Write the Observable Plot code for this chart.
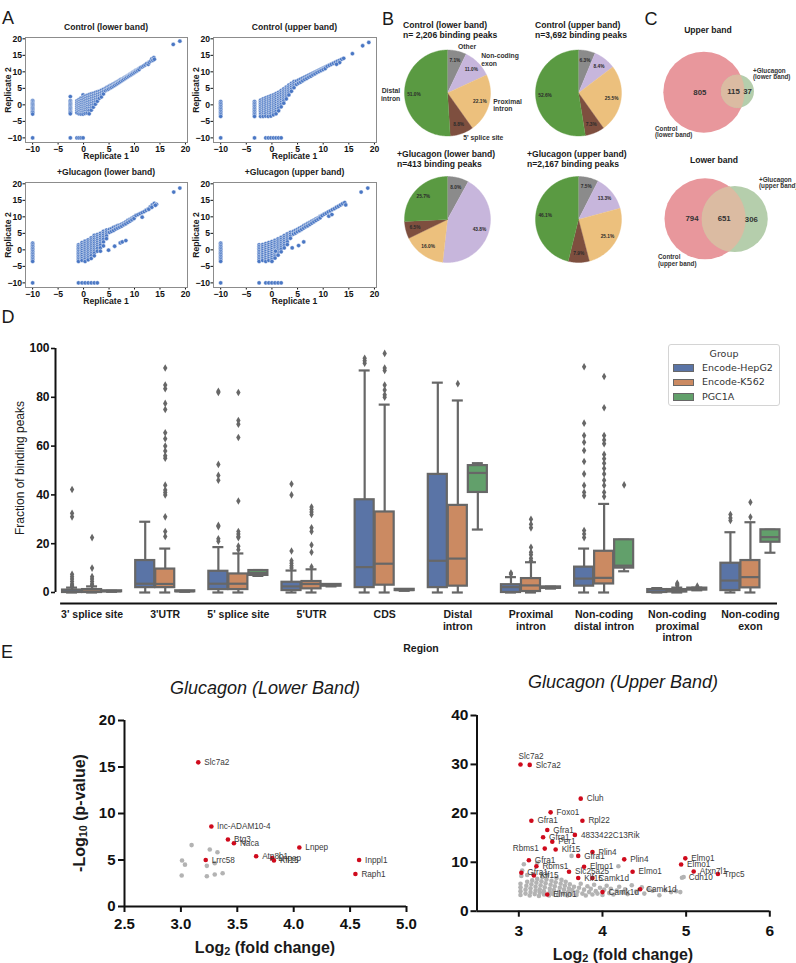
<!DOCTYPE html>
<html>
<head>
<meta charset="utf-8">
<script src="https://cdn.jsdelivr.net/npm/d3@7"></script>
<script src="https://cdn.jsdelivr.net/npm/@observablehq/plot@0.6"></script>
<style>
html,body{margin:0;padding:0;background:#fff;}
#root{position:relative;width:796px;height:963px;overflow:hidden;background:#fff;}
#root svg{position:absolute;overflow:visible;}
.thick g[aria-label="x-axis tick"] path,.thick g[aria-label="y-axis tick"] path,.thick g[aria-label="x-axis"] line,.thick g[aria-label="y-axis"] line{stroke-width:2px;stroke:#111;}
.mid g[aria-label="y-axis tick"] path,.mid g[aria-label="y-axis"] line{stroke-width:1.6px;stroke:#111;}
</style>
</head>
<body>
<div id="root"></div>
<script>
// ===================== DATA =====================
// Panel A: replicate scatter (columns of points at fixed x, and diagonal points)
const repTicks = [-10, -5, 0, 5, 10, 15, 20];
const ctrlLowerCols = [
  [-10, [1.3,0.9,0.5,0.1,-0.3,-0.7,-1.1,-1.5,-1.9,-2.3,-2.8,-10]],
  [-2.6, [2.5,1.3,0.9,0.5,0.1,-0.3,-0.7,-1.1,-1.5,-1.9,-2.3,-2.7,-10]],
  [-1.3, [1.2,0.6,0,-0.6,-1.2,-1.8,-2.4,-10]],
  [-0.9, [1.6,1,0.4,-0.2,-0.8,-1.4,-2,-2.7,-10]],
  [-0.5, [2,1.3,0.7,0.1,-0.5,-1.1,-1.7,-2.3,-2.8,-10]],
  [-0.1, [3,2.2,1.5,0.8,0.2,-0.4,-1,-1.6,-2.2,-2.8,-10]],
  [0.3, [2.6,1.9,1.2,0.5,-0.1,-0.7,-1.3,-1.9,-2.6]],
  [0.7, [2.9,2.2,1.5,0.8,0.1,-0.5,-1.1,-1.8,-2.5]],
  [1.1, [3.1,2.4,1.7,1,0.3,-0.3,-1,-1.7,-2.7]],
  [1.5, [3.3,2.6,1.9,1.2,0.5,-0.2,-0.9,-1.6]],
  [1.9, [3.5,2.8,2.1,1.4,0.7,0,-0.7]],
  [2.3, [3.7,3,2.3,1.6,0.9,0.2]],
  [2.7, [3.9,3.2,2.5,1.8,1.1]],
  [3.1, [4.1,3.4,2.7,2]],
  [3.5, [4.4,3.7,3,2.4]],
  [3.9, [4.7,4,3.3]]
];
const ctrlLowerDiag = [[4.3,5],[4.3,4.3],[4.6,5.3],[4.6,4.6],[4.9,5.5],[4.9,4.8],[5.2,5.8],[5.2,5.1],[5.5,6],[5.5,5.3],[5.8,6.3],[5.8,5.6],[6.1,6.5],[6.1,5.9],[6.4,6.8],[6.4,6.2],[6.7,7],[6.7,6.5],[7,7.3],[7,6.8],[7.3,7.6],[7.3,7.1],[7.6,7.8],[7.6,7.4],[7.9,8.1],[7.9,7.7],[8.2,8.4],[8.2,8],[8.5,8.6],[8.5,8.3],[8.8,8.9],[8.8,8.6],[9.1,9.2],[9.1,8.9],[9.4,9.5],[9.4,9.2],[9.7,9.8],[9.7,9.5],[10,10.1],[10,9.8],[10.3,10.4],[10.3,10.1],[10.6,10.7],[10.6,10.4],[10.9,11],[10.9,10.7],[11.2,11.3],[11.5,11.5],[11.8,11.8],[12.1,12.1],[12.4,12.5],[12.7,12.3],[12.9,12.9],[13.2,13.3],[13.4,13.9],[13.6,13.5],[13.8,14.3],[13.9,13.8],[17.6,18.3],[18.9,19.3]];

const ctrlUpperCols = [
  [-10, [1,0.5,0,-0.5,-1,-1.5,-2,-2.5,-3,-3.5,-10]],
  [-3.4, [1,0.5,0,-0.5,-1,-1.5,-2,-2.5,-3,-3.5,-10]],
  [-2.2, [1.4,0.8,0.2,-0.4,-1,-1.6,-2.2,-2.8,-3.5]],
  [-1.7, [1.8,1.2,0.6,0,-0.6,-1.2,-1.8,-2.4,-3,-3.5]],
  [-1.2, [2.1,1.5,0.9,0.3,-0.3,-0.9,-1.5,-2.1,-2.7,-3.4,-10]],
  [-0.7, [2.4,1.8,1.2,0.6,0,-0.6,-1.2,-1.8,-2.4,-3,-3.5,-10]],
  [-0.2, [2.7,2.1,1.5,0.9,0.3,-0.3,-0.9,-1.5,-2.1,-2.7,-3.4,-10]],
  [0.3, [3,2.4,1.8,1.2,0.6,0,-0.6,-1.2,-1.8,-2.4,-3,-10]],
  [0.8, [3.4,2.8,2.2,1.6,1,0.4,-0.2,-0.8,-1.4,-2,-2.7,-10]],
  [1.3, [3.8,3.2,2.6,2,1.4,0.8,0.2,-0.4,-1,-1.8,-10]],
  [1.8, [4.3,3.7,3.1,2.5,1.9,1.3,0.7,0.1,-0.6,-10]],
  [2.3, [4.8,4.2,3.6,3,2.4,1.8,1.2,0.5]],
  [2.8, [5.4,4.8,4.2,3.6,3,2.4,1.8]],
  [3.3, [6,5.4,4.8,4.2,3.6,3]],
  [3.8, [6.5,5.9,5.3,4.7,4.1]],
  [4.3, [7,6.4,5.8,5.2]]
];
const ctrlUpperDiag = [[4.8,7.2],[4.8,6.2],[5.2,7.5],[5.2,6.6],[5.6,7.8],[5.6,6.9],[6,8.1],[6,7.3],[6.4,8.4],[6.4,7.7],[6.8,8.7],[6.8,8],[7.2,9],[7.2,8.4],[7.6,9.3],[7.6,8.7],[8,9.6],[8,9.1],[8.4,9.9],[8.4,9.4],[8.8,10.2],[8.8,9.8],[9.2,10.5],[9.2,10.1],[9.6,10.8],[9.6,10.4],[10,11.1],[10,10.7],[10.4,11.4],[10.4,11],[10.8,11.7],[11.2,12],[11.6,12.3],[12,12.6],[12.4,12.9],[12.8,13.2],[13.2,13.5],[13.6,13.8],[14,14.1],[13.2,12.8],[12.6,12.3],[15.7,15.5],[17.7,17.9],[18.9,18.9]];

const glucLowerCols = [
  [-10, [2,1.5,1,0.5,0,-0.5,-1,-1.5,-2,-2.5,-3,-3.5,-10]],
  [-1, [1.5,1,0.5,0,-0.5,-1,-1.5,-2,-2.5,-3,-3.5,-10]],
  [-0.3, [2.2,1.6,1,0.4,-0.2,-0.8,-1.4,-2,-2.6,-3.2,-10]],
  [0.3, [2.6,2,1.4,0.8,0.2,-0.4,-1,-1.6,-2.2,-2.8,-3.5,-10]],
  [0.9, [3,2.4,1.8,1.2,0.6,0,-0.6,-1.2,-1.8,-2.4,-3,-10]],
  [1.5, [3.6,3,2.4,1.8,1.2,0.6,0,-0.6,-1.2,-1.8,-2.6,-10]],
  [2.1, [4.4,3.8,3.2,2.6,2,1.4,0.8,0.2,-0.4,-1,-1.8,-10]],
  [2.7, [4.6,4,3.4,2.8,2.2,1.6,1,0.4,-0.4,-10]],
  [3.3, [5,4.4,3.8,3.2,2.6,2,1.4,0.6,-0.4]],
  [3.9, [5.6,5,4.4,3.8,3.2,2.4,1.2]],
  [4.5, [6,5.4,4.8,4.2,3.4]]
];
const glucLowerDiag = [[5.1,6.2],[5.1,5.3],[5.5,6.4],[5.5,5.6],[5.9,6.8],[5.9,5.9],[6.3,7],[6.3,6.3],[6.7,7.3],[6.7,6.6],[7.1,7.5],[7.1,6.9],[7.5,7.8],[7.5,7.2],[7.9,8.1],[7.9,7.6],[8.3,8.5],[8.3,7.9],[8.7,8.9],[8.7,8.3],[9.1,9.2],[9.1,8.7],[9.5,9.6],[9.5,9.1],[9.9,10],[9.9,9.5],[10.3,10.4],[10.7,10.7],[11.1,11],[11.5,11.3],[11.9,11.6],[12.3,12],[12.7,12.4],[13.1,13],[13.5,13.6],[13.9,14.1],[14.3,13.8],[4.9,-0.1],[6.1,1.1],[7.2,2.1],[7.6,2.4],[8.3,2.8],[11.5,9.9],[12.8,12.3],[13.4,12.9],[14.1,13.5],[17.7,17.5],[18.9,18.7]];

const glucUpperCols = [
  [-10, [2,1.5,1,0.5,0,-0.5,-1,-1.5,-2,-2.5,-3,-3.5,-10]],
  [-2.5, [1.5,1,0.5,0,-0.5,-1,-1.5,-2,-2.5,-3,-3.5,-10]],
  [-1.8, [1.6,1,0.4,-0.2,-0.8,-1.4,-2,-2.6,-3.2]],
  [-1.2, [1.9,1.3,0.7,0.1,-0.5,-1.1,-1.7,-2.3,-2.9,-3.5,-10]],
  [-0.6, [2.2,1.6,1,0.4,-0.2,-0.8,-1.4,-2,-2.6,-3.2,-10]],
  [0, [2.5,1.9,1.3,0.7,0.1,-0.5,-1.1,-1.7,-2.3,-2.9,-3.5,-10]],
  [0.6, [2.9,2.3,1.7,1.1,0.5,-0.1,-0.7,-1.3,-1.9,-2.5,-10]],
  [1.2, [3.3,2.7,2.1,1.5,0.9,0.3,-0.3,-0.9,-1.6,-10]],
  [1.8, [3.8,3.2,2.6,2,1.4,0.8,0.2,-0.6,-10]],
  [2.4, [4.3,3.7,3.1,2.5,1.9,1.3,0.6]],
  [3, [4.8,4.2,3.6,3,2.4,1.6]],
  [3.6, [5.3,4.7,4.1,3.5]]
];
const glucUpperDiag = [[4.2,5.6],[4.2,4.8],[4.6,5.9],[4.6,5.1],[5,6.2],[5,5.5],[5.4,6.6],[5.4,5.8],[5.8,6.9],[5.8,6.2],[6.2,7.3],[6.2,6.6],[6.6,7.6],[6.6,7],[7,8],[7,7.3],[7.4,8.3],[7.4,7.7],[7.8,8.7],[7.8,8.1],[8.2,9],[8.2,8.5],[8.6,9.4],[8.6,8.9],[9,9.7],[9,9.3],[9.4,10.1],[9.4,9.7],[9.8,10.4],[10.2,10.8],[10.6,11.1],[11,11.5],[11.4,11.8],[11.8,12.2],[12.2,12.5],[12.6,12.9],[13,13.2],[13.4,13.6],[13.8,14],[14.2,14.3],[14.4,13.6],[0.7,-0.4],[3.95,0.6],[5.2,1.3],[6.2,2.4],[11.1,10.2],[11.7,10.7],[17.4,17.5],[18.7,18.7]];

// Panel B: pie charts (percent of binding peaks)
const pieCategories = ["Other", "Non-coding exon", "Proximal intron", "5' splice site", "Distal intron"];
const pieLabelText = ["Other", "Non-coding\nexon", "Proximal\nintron", "5' splice site", "Distal\nintron"];
const ctrlLowerPct = [7.1, 11.0, 22.1, 8.8, 51.0];
const ctrlUpperPct = [6.3, 8.4, 25.5, 7.3, 52.6];
const glucLowerPct = [8.0, 43.8, 16.0, 6.5, 25.7];
const glucUpperPct = [7.5, 13.3, 25.1, 7.9, 46.1];

// Panel C: Venn counts [only first, both, only second]
const vennUpperSets = ["Control\n(lower band)", "+Glucagon\n(lower band)"];
const vennUpperCounts = [805, 115, 37];
const vennLowerSets = ["Control\n(upper band)", "+Glucagon\n(upper band)"];
const vennLowerCounts = [794, 651, 306];

// Panel D: box plot summaries per region
const regions = ["3' splice site","3'UTR","5' splice site","5'UTR","CDS","Distal intron","Proximal intron","Non-coding distal intron","Non-coding proximal intron","Non-coding exon"];
const regionTickLabels = ["3' splice site","3'UTR","5' splice site","5'UTR","CDS","Distal\nintron","Proximal\nintron","Non-coding\ndistal intron","Non-coding\nproximal\nintron","Non-coding\nexon"];
const groupNames = ["Encode-HepG2", "Encode-K562", "PGC1A"];
const hepQ1  = [0, 2, 1.2, 0.8, 2, 2, 0, 2.6, 0, 0.8];
const hepMed = [0.3, 3.6, 3.6, 2.5, 10.4, 13, 2.2, 5.7, 0.3, 4.9];
const hepQ3  = [1, 13.1, 8.7, 4.2, 38, 48.4, 3.2, 10.4, 1.2, 12];
const hepLo  = [0, 0, 0, 0, 0, 0, 0, 0, 0, 0];
const hepHi  = [2, 29, 18.6, 9, 91, 86, 6.3, 18, 1.8, 24.7];
const hepOut = [[42.2,32.5,31,7.5,6.5,5.5,4.5,3.5,3,2.5],[],[82.5,82,52.5,48,46,27.5,27,22,21],[44.5,40,17,13,12,11,10],[96,95,94],[],[8,7.5],[92.5,69.4,64.3,61.6,58.2,53.7,48.6,43.9,41.1,39.7,25.4,24,22.5],[],[32,30.5,29.5]];
const k562Q1  = [0, 2, 1.2, 1.5, 3, 2.6, 0.4, 3.5, 0.2, 1.9];
const k562Med = [0.4, 3.5, 3.6, 3.5, 11.8, 13.9, 2.9, 6, 0.6, 6.3];
const k562Q3  = [1.2, 9.6, 7.6, 4.5, 33, 35.7, 5.7, 16.9, 1.2, 13.1];
const k562Lo  = [0, 0, 0, 0, 0, 0, 0, 0, 0, 0];
const k562Hi  = [2.5, 18, 16, 9.5, 77, 78.7, 12.4, 36.3, 2, 28.8];
const k562Out = [[22.5,10,6.5,5.5,4.5,3.5,3],[92,85,83.5,77.5,75,65.5,63,60,58,56,55,44,42,41,40,31,25,23],[82,70.5,69,63.5,37.5,25,24,23,22.5,19,17.5],[35,34,33,32,26.5,25,19.5,16.5,10.5],[98,92,91,85,83,81,80],[85.6],[30,28,26.5,18.5,16.5,15.5,14,13],[88.5,75.7,64.3,62.5,61,56.6,54.8,53,50.8,48.6,46,43.9,41.1,39.3],[2.8,3.3,3.8],[37,30.9]];
const pgcQ1  = [0.3, 0.3, 7, 2.6, 0.8, 41, 1.7, 10, 1, 20.6];
const pgcMed = [0.5, 0.5, 8, 3, 1, 49, 2, 11, 1.4, 22.7];
const pgcQ3  = [0.7, 0.7, 9, 3.3, 1.3, 52, 2.3, 21.6, 1.8, 25.7];
const pgcLo  = [0.3, 0.3, 6.8, 2.5, 0.7, 25.8, 1.6, 8.7, 0.9, 16.3];
const pgcHi  = [0.7, 0.7, 9.2, 3.4, 1.4, 53, 2.4, 21.6, 2, 25.7];
const pgcOut = [[],[],[],[],[],[],[],[44.1],[2.6],[]];
const boxTicks = [0, 20, 40, 60, 80, 100];

// Panel E: volcano-style plots
const eLowGene = ["Slc7a2","lnc-ADAM10-4","Btg3","Naca","Lrrc58","Atp8b1","Lnpep","Klf15","Lnpep","Inppl1","Raph1"];
const eLowFC   = [3.154, 3.27, 3.417, 3.47, 3.22, 3.667, 3.81, 3.825, 4.05, 4.58, 4.547];
const eLowP    = [15.5, 8.6, 7.2, 6.8, 5.0, 5.4, 5.2, 4.95, 6.35, 5.0, 3.5];
const eLowGrayFC = [3.007, 3.01, 3.036, 3.095, 3.23, 3.23, 3.256, 3.3, 3.3, 3.324, 3.37];
const eLowGrayP  = [3.33, 4.95, 4.5, 6.6, 4.37, 3.26, 6.13, 4.66, 3.44, 5.84, 3.58];
const eLowXTicks = [2.5, 3.0, 3.5, 4.0, 4.5, 5.0];
const eLowYTicks = [0, 5, 10, 15, 20];

const eUpGene = ["Slc7a2","Slc7a2","Cluh","Foxo1","Rpl22","Gfra1","Gfra1","4833422C13Rik","Gfra1","Per1","Rbms1","Klf15","Plin4","Gfra1","Plin4","Gfra1","Elmo1","Elmo1","Rbms1","Elmo1","Atxn7l1","Elmo1","Slc25a25","Gfra1","Trpc5","Klf15","Klf15","Camk1d","Camk1d","Camk1d","Elmo1"];
const eUpFC = [3.02,3.13,3.74,3.38,3.76,3.15,3.34,3.67,3.29,3.40,3.31,3.44,3.88,3.71,4.26,3.12,4.99,4.94,3.21,3.78,5.09,4.36,3.60,3.03,5.38,3.18,3.71,3.88,4.45,4.00,3.34];
const eUpP  = [30.0,29.9,23.0,20.2,18.5,18.5,16.6,15.6,15.1,14.2,12.8,12.6,12.1,11.3,10.6,10.4,10.8,9.55,9.2,9.1,8.1,8.05,8.05,7.85,7.6,7.3,6.8,6.8,4.5,3.9,3.4];
const eUpGrayLabelGene = ["Cdh10"];
const eUpGrayLabelFC = [4.96];
const eUpGrayLabelP = [6.85];
const eUpGray = [[3.02,3.3],[3.02,4.1],[3.02,4.9],[3.02,5.6],[3.03,7.2],[3.04,8.3],[3.06,9.6],[3.08,3.6],[3.08,4.4],[3.09,5.2],[3.1,6.0],[3.1,7.4],[3.13,3.2],[3.14,3.9],[3.14,4.7],[3.15,5.5],[3.16,6.3],[3.17,7.6],[3.19,3.5],[3.2,4.2],[3.2,5.0],[3.21,5.8],[3.22,6.6],[3.22,9.9],[3.24,3.1],[3.25,3.8],[3.25,4.5],[3.26,5.3],[3.27,6.1],[3.28,7.0],[3.3,3.4],[3.3,4.1],[3.31,4.9],[3.32,5.7],[3.33,6.5],[3.34,7.4],[3.36,3.2],[3.37,3.9],[3.37,4.6],[3.38,5.4],[3.39,6.2],[3.41,3.5],[3.42,4.3],[3.43,5.1],[3.44,5.9],[3.45,6.8],[3.47,3.3],[3.48,4.0],[3.49,4.8],[3.5,5.6],[3.51,6.4],[3.53,3.6],[3.54,4.4],[3.55,5.2],[3.56,6.0],[3.58,3.2],[3.59,3.9],[3.6,4.7],[3.61,5.5],[3.63,3.5],[3.64,4.3],[3.63,11.3],[3.66,5.0],[3.69,3.3],[3.7,4.0],[3.72,4.8],[3.74,5.6],[3.76,3.6],[3.78,4.4],[3.8,3.2],[3.82,5.1],[3.84,3.9],[3.86,4.6],[3.88,3.4],[3.9,5.4],[3.92,4.1],[3.94,3.6],[3.97,4.8],[4.0,3.3],[4.02,4.4],[4.05,5.2],[4.08,3.7],[4.1,4.6],[4.13,3.4],[4.17,4.2],[4.19,9.2],[4.2,5.0],[4.24,3.8],[4.27,4.5],[4.3,3.5],[4.35,5.3],[4.4,4.0],[4.47,4.9],[4.5,3.6],[4.55,4.5],[4.6,4.2],[4.68,3.25],[4.75,4.3],[4.82,3.9],[4.88,4.1],[4.93,3.9],[4.95,6.85],[4.97,7.0]];
const eUpXTicks = [3, 4, 5, 6];
const eUpYTicks = [0, 10, 20, 30, 40];

// ===================== HELPERS =====================
const FONT = "'Liberation Sans', Arial, Helvetica, sans-serif";
const root = document.getElementById("root");
function st(size, weight) {
  return `font-family:${FONT};font-size:${size}px;font-weight:${weight};background:transparent;overflow:visible;color:#111;`;
}
function put(el, left, top, cls) {
  el.style.position = "absolute";
  el.style.left = left + "px";
  el.style.top = top + "px";
  if (cls) el.classList.add(cls);
  root.appendChild(el);
  return el;
}
function label(html, x, y, o = {}) {
  const d = document.createElement("div");
  d.innerHTML = html;
  const anchor = o.anchor || "middle";
  const tx = anchor === "start" ? "0" : anchor === "end" ? "-100%" : "-50%";
  d.style.cssText = `position:absolute;left:${x}px;top:${y}px;white-space:nowrap;line-height:${o.lh || 1.1};` +
    `font-family:${o.family || FONT};font-size:${o.size || 8.6}px;font-weight:${o.weight || "bold"};` +
    `font-style:${o.italic ? "italic" : "normal"};color:${o.color || "#1a1a1a"};text-align:${o.align || "center"};` +
    `transform:translate(${tx},-50%)${o.rotate ? " rotate(" + o.rotate + "deg)" : ""};` + (o.extra || "");
  root.appendChild(d);
  return d;
}

// ===================== PANEL A =====================
function repPlot(cols, diag, left, top, width, ml, mr) {
  const pts = [];
  cols.forEach(([x, ys]) => ys.forEach(y => pts.push({x, y})));
  diag.forEach(([x, y]) => pts.push({x, y}));
  const svg = Plot.plot({
    width, height: 135, marginLeft: ml, marginRight: mr, marginTop: 17, marginBottom: 13,
    style: st(8.6, "bold"),
    x: {domain: [-11.4, 20.4], ticks: repTicks, tickSize: 2.5, tickPadding: 1, label: null},
    y: {domain: [-11.4, 20.4], ticks: repTicks, tickSize: 2.5, tickPadding: 1, label: null},
    marks: [
      Plot.dot(pts, {x: "x", y: "y", r: 2.15, fill: "#4a77c4", stroke: "#ffffff", strokeWidth: 0.45}),
      Plot.frame({stroke: "#8c8c8c", strokeWidth: 1})
    ]
  });
  put(svg, left, top);
}
repPlot(ctrlLowerCols, ctrlLowerDiag, 0, 20, 190, 25, 3);
repPlot(ctrlUpperCols, ctrlUpperDiag, 190, 20, 190, 23, 4);
repPlot(glucLowerCols, glucLowerDiag, 0, 165, 190, 25, 3);
repPlot(glucUpperCols, glucUpperDiag, 190, 165, 190, 23, 4);

label("A", 8, 19, {size: 18, weight: "normal"});
label("Control (lower band)", 106, 28);
label("Control (upper band)", 294.5, 28);
label("+Glucagon (lower band)", 106, 173);
label("+Glucagon (upper band)", 294.5, 173);
label("Replicate 1", 106, 157);
label("Replicate 1", 294.5, 157);
label("Replicate 1", 106, 302);
label("Replicate 1", 294.5, 302);
label("Replicate 2", 9, 89.5, {rotate: -90});
label("Replicate 2", 197, 89.5, {rotate: -90});
label("Replicate 2", 9, 234.5, {rotate: -90});
label("Replicate 2", 197, 234.5, {rotate: -90});

// ===================== PANEL B =====================
const pieColors = ["#8b8b8b", "#c7b6dc", "#ecc07d", "#7e4f3f", "#5a9a42"];
const pieR = 43;
const pies = [
  {vals: ctrlLowerPct, cx: 447, cy: 92.5, outer: true},
  {vals: ctrlUpperPct, cx: 578, cy: 92.5},
  {vals: glucLowerPct, cx: 447, cy: 219},
  {vals: glucUpperPct, cx: 578, cy: 219}
];
const slicePts = [], pctLabels = [], outerR = [], outerL = [];
pies.forEach((p, pi) => {
  const arcs = d3.pie().sort(null)(p.vals);
  arcs.forEach((a, i) => {
    const id = pi * 10 + i;
    slicePts.push({id, x: p.cx, y: p.cy, c: pieColors[i]});
    const n = Math.max(3, Math.ceil((a.endAngle - a.startAngle) / 0.02));
    for (let k = 0; k <= n; k++) {
      const t = a.startAngle + (a.endAngle - a.startAngle) * k / n;
      slicePts.push({id, x: p.cx + pieR * Math.sin(t), y: p.cy - pieR * Math.cos(t), c: pieColors[i]});
    }
    const m = (a.startAngle + a.endAngle) / 2;
    pctLabels.push({x: p.cx + pieR * 0.78 * Math.sin(m), y: p.cy - pieR * 0.78 * Math.cos(m), t: p.vals[i].toFixed(1) + "%"});
    if (p.outer) {
      const o = {x: p.cx + pieR * 1.1 * Math.sin(m), y: p.cy - pieR * 1.1 * Math.cos(m), t: pieLabelText[i], cat: pieCategories[i]};
      (Math.sin(m) >= 0 ? outerR : outerL).push(o);
    }
  });
});
const pieSvg = Plot.plot({
  width: 280, height: 290, margin: 0,
  style: st(6.8, "bold"),
  x: {domain: [360, 640], range: [0, 280], axis: null},
  y: {domain: [0, 290], range: [0, 290], axis: null},
  marks: [
    Plot.line(slicePts, {x: "x", y: "y", z: "id", fill: "c", stroke: "c", strokeWidth: 0.4, curve: "linear"}),
    Plot.text(pctLabels, {x: "x", y: "y", text: "t", fontSize: 4.8, fontWeight: "bold", fill: "#2b2b2b"}),
    Plot.text(outerR, {x: "x", y: "y", text: "t", textAnchor: "start", fontSize: 6.8, fontWeight: "bold", fill: "#333", lineHeight: 1.1}),
    Plot.text(outerL, {x: "x", y: "y", text: "t", textAnchor: "end", fontSize: 6.8, fontWeight: "bold", fill: "#333", lineHeight: 1.1})
  ]
});
put(pieSvg, 360, 0);

label("B", 388, 20, {size: 18, weight: "normal"});
label("Control (lower band)", 403, 26, {anchor: "start"});
label("n= 2,206 binding peaks", 403, 36, {anchor: "start"});
label("Control (upper band)", 535, 26, {anchor: "start"});
label("n=3,692 binding peaks", 535, 36, {anchor: "start"});
label("+Glucagon (lower band)", 397, 155, {anchor: "start"});
label("n=413 binding peaks", 397, 164.5, {anchor: "start"});
label("+Glucagon (upper band)", 527, 155, {anchor: "start"});
label("n=2,167 binding peaks", 527, 164.5, {anchor: "start"});

// ===================== PANEL C =====================
const vennPink = "#e8979c", vennGreen = "#b5ceac", vennMix = "#dbbba2";
function inside(c, x, y) { return (x - c.x) ** 2 + (y - c.y) ** 2 <= c.r * c.r; }
function lens(A, B) {
  const pts = [], N = 360;
  const ang = Math.atan2(B.y - A.y, B.x - A.x);
  for (let k = 0; k <= N; k++) {
    const t = ang + Math.PI + 2 * Math.PI * k / N;
    const x = A.x + A.r * Math.cos(t), y = A.y + A.r * Math.sin(t);
    if (inside(B, x, y)) pts.push({x, y});
  }
  for (let k = 0; k <= N; k++) {
    const t = ang + 2 * Math.PI * k / N;
    const x = B.x + B.r * Math.cos(t), y = B.y + B.r * Math.sin(t);
    if (inside(A, x, y)) pts.push({x, y});
  }
  return pts;
}
function centroids(A, B) {
  const acc = [[0, 0, 0], [0, 0, 0], [0, 0, 0]];
  const x0 = Math.min(A.x - A.r, B.x - B.r), x1 = Math.max(A.x + A.r, B.x + B.r);
  const y0 = Math.min(A.y - A.r, B.y - B.r), y1 = Math.max(A.y + A.r, B.y + B.r);
  for (let x = x0; x <= x1; x += 0.5) for (let y = y0; y <= y1; y += 0.5) {
    const a = inside(A, x, y), b = inside(B, x, y);
    const k = a && !b ? 0 : a && b ? 1 : !a && b ? 2 : -1;
    if (k >= 0) { acc[k][0] += x; acc[k][1] += y; acc[k][2]++; }
  }
  return acc.map(([sx, sy, n]) => ({x: sx / n, y: sy / n}));
}
function venn(counts, ca, cb, left, top, height) {
  const nA = counts[0] + counts[1], nB = counts[1] + counts[2];
  const rmax = 40.5;
  const rs = d3.scaleSqrt().domain([0, Math.max(nA, nB)]).range([0, rmax]);
  const A = {x: ca[0], y: ca[1], r: rs(nA), n: nA, c: vennPink};
  const B = {x: cb[0], y: cb[1], r: rs(nB), n: nB, c: vennGreen};
  const cents = centroids(A, B).map((c, i) => ({...c, t: String(counts[i])}));
  const svg = Plot.plot({
    width: 166, height, margin: 0,
    style: st(7.5, "bold"),
    x: {domain: [630, 796], range: [0, 166], axis: null},
    y: {domain: [top, top + height], range: [0, height], axis: null},
    r: {type: "sqrt", domain: [0, Math.max(nA, nB)], range: [0, rmax]},
    marks: [
      Plot.dot([A, B], {x: "x", y: "y", r: "n", fill: "c", stroke: "none", sort: null}),
      Plot.line(lens(A, B), {x: "x", y: "y", fill: vennMix, stroke: vennMix, strokeWidth: 0.3}),
      Plot.text(cents, {x: "x", y: "y", text: "t", fontSize: 7.8, fontWeight: "bold", fill: "#333"})
    ]
  });
  put(svg, left, top);
}
venn(vennUpperCounts, [703.3, 91.7], [737, 90.8], 630, 30, 120);
venn(vennLowerCounts, [704.5, 218.3], [734.3, 218.5], 630, 150, 140);

label("C", 651, 20, {size: 18, weight: "normal"});
label("Upper band", 708, 31);
label("Lower band", 714, 160.5);
label(vennUpperSets[1].replace("\n", "<br>"), 753, 74.5, {anchor: "start", size: 6.3, align: "left", color: "#333"});
label(vennUpperSets[0].replace("\n", "<br>"), 655, 132.5, {anchor: "start", size: 6.3, align: "left", color: "#333"});
label(vennLowerSets[1].replace("\n", "<br>"), 759, 183.5, {anchor: "start", size: 6.3, align: "left", color: "#333"});
label(vennLowerSets[0].replace("\n", "<br>"), 658, 261, {anchor: "start", size: 6.3, align: "left", color: "#333"});

// ===================== PANEL D =====================
const groupColors = ["#5a74a6", "#cb8a62", "#62a06b"];
const groupStats = [
  {q1: hepQ1, med: hepMed, q3: hepQ3, lo: hepLo, hi: hepHi, out: hepOut},
  {q1: k562Q1, med: k562Med, q3: k562Q3, lo: k562Lo, hi: k562Hi, out: k562Out},
  {q1: pgcQ1, med: pgcMed, q3: pgcQ3, lo: pgcLo, hi: pgcHi, out: pgcOut}
];
const boxes = [], fliers = [];
groupStats.forEach((g, gi) => regions.forEach((r, i) => {
  const cx = i + (gi - 1) * 0.2736;
  boxes.push({cx, x1: cx - 0.13, x2: cx + 0.13, c1: cx - 0.075, c2: cx + 0.075,
    q1: g.q1[i], med: g.med[i], q3: g.q3[i], lo: g.lo[i], hi: g.hi[i], fill: groupColors[gi], region: r, group: groupNames[gi]});
  g.out[i].forEach(v => fliers.push({cx, v}));
}));
const tickRows = regionTickLabels.map((t, i) => ({i, t}));
const BOXLINE = "#676767";
const boxSvg = Plot.plot({
  width: 796, height: 360, marginLeft: 55, marginRight: 9.5, marginTop: 48, marginBottom: 68,
  style: st(12, "bold"),
  x: {domain: [-0.5, 9.5], axis: null},
  y: {domain: [0, 100], ticks: boxTicks, tickSize: 4, tickPadding: 2, label: null},
  marks: [
    Plot.ruleX(boxes, {x: "cx", y1: "q3", y2: "hi", stroke: BOXLINE, strokeWidth: 2.2}),
    Plot.ruleX(boxes, {x: "cx", y1: "lo", y2: "q1", stroke: BOXLINE, strokeWidth: 2.2}),
    Plot.ruleY(boxes, {y: "hi", x1: "c1", x2: "c2", stroke: BOXLINE, strokeWidth: 2.2}),
    Plot.ruleY(boxes, {y: "lo", x1: "c1", x2: "c2", stroke: BOXLINE, strokeWidth: 2.2}),
    Plot.rect(boxes, {x1: "x1", x2: "x2", y1: "q1", y2: "q3", fill: "fill", stroke: BOXLINE, strokeWidth: 2.2}),
    Plot.ruleY(boxes, {y: "med", x1: "x1", x2: "x2", stroke: BOXLINE, strokeWidth: 2.2}),
    Plot.dot(fliers, {x: "cx", y: "v", symbol: "diamond", r: 2.3, fill: BOXLINE, stroke: "none"}),
    Plot.ruleX([-0.5], {stroke: "#111", strokeWidth: 2}),
    Plot.ruleY([0], {x1: -0.43, x2: 9.37, dy: 11, stroke: "#111", strokeWidth: 2.2}),
    Plot.text(tickRows, {x: "i", y: 0, text: "t", dy: 17, lineAnchor: "top", lineHeight: 1.12, fontSize: 10.5, fontWeight: "bold", fill: "#1a1a1a"})
  ]
});
put(boxSvg, 0, 300, "mid");

label("D", 8, 318, {size: 18, weight: "normal"});
label("Fraction of binding peaks", 21, 468, {rotate: -90, size: 12, weight: "normal"});
label("Region", 421, 649, {size: 10.5});

// legend
(function () {
  const lg = document.createElement("div");
  lg.style.cssText = "position:absolute;left:668px;top:344px;width:112px;height:62px;border:1px solid #d4d4d4;border-radius:3px;background:#fff;box-sizing:border-box;font-family:'DejaVu Sans',sans-serif;font-size:9.5px;color:#333;";
  let html = `<div style="position:absolute;left:0;width:100%;top:3px;text-align:center;">Group</div>`;
  groupNames.forEach((g, i) => {
    const cy = 23 + i * 14.7;
    html += `<div style="position:absolute;left:3.5px;top:${cy - 4}px;width:21px;height:7.5px;background:${groupColors[i]};border:1px solid ${BOXLINE};box-sizing:border-box;"></div>`;
    html += `<div style="position:absolute;left:33px;top:${cy - 6.5}px;white-space:nowrap;">${g}</div>`;
  });
  lg.innerHTML = html;
  root.appendChild(lg);
})();

// ===================== PANEL E =====================
const RED = "#cf0a1c", GRAY = "#b3b3b3";
const lowRed = eLowGene.map((g, i) => ({g, x: eLowFC[i], y: eLowP[i]}));
const lowGray = eLowGrayFC.map((x, i) => ({x, y: eLowGrayP[i]}));
const eLowSvg = Plot.plot({
  width: 420, height: 303, marginLeft: 124, marginRight: 14, marginTop: 60, marginBottom: 57,
  style: st(15, "bold"),
  x: {domain: [2.5, 5], ticks: eLowXTicks, tickFormat: d3.format(".1f"), tickSize: 6, tickPadding: 6, label: null},
  y: {domain: [0, 20], ticks: eLowYTicks, tickFormat: d3.format("d"), tickSize: 6, tickPadding: 3, label: null},
  marks: [
    Plot.dot(lowGray, {x: "x", y: "y", r: 2.3, fill: GRAY, stroke: "none"}),
    Plot.dot(lowRed, {x: "x", y: "y", r: 2.3, fill: RED, stroke: "none"}),
    Plot.text(lowRed, {x: "x", y: "y", text: "g", dx: 6, textAnchor: "start", fontSize: 8.2, fontWeight: "normal", fill: "#3a3a3a"}),
    Plot.ruleX([2.5], {stroke: "#111", strokeWidth: 2}),
    Plot.ruleY([0], {stroke: "#111", strokeWidth: 2})
  ]
});
put(eLowSvg, 0, 660, "thick");

const upRed = eUpGene.map((g, i) => ({g, x: eUpFC[i], y: eUpP[i], i}));
const upGray = eUpGray.map(([x, y]) => ({x, y}));
const upGrayLab = eUpGrayLabelGene.map((g, i) => ({g, x: eUpGrayLabelFC[i], y: eUpGrayLabelP[i]}));
const eUpSvg = Plot.plot({
  width: 396, height: 303, marginLeft: 76.5, marginRight: 26.7, marginTop: 55, marginBottom: 52.3,
  style: st(15.5, "bold"),
  x: {domain: [2.5, 6], ticks: eUpXTicks, tickFormat: d3.format("d"), tickSize: 6, tickPadding: 8, label: null},
  y: {domain: [0, 40], ticks: eUpYTicks, tickFormat: d3.format("d"), tickSize: 6, tickPadding: 2.5, label: null},
  marks: [
    Plot.dot(upGray, {x: "x", y: "y", r: 2.3, fill: GRAY, stroke: "none"}),
    Plot.dot(upRed, {x: "x", y: "y", r: 2.3, fill: RED, stroke: "none"}),
    Plot.text(upRed.filter(d => d.i !== 0 && d.i !== 10), {x: "x", y: "y", text: "g", dx: 6, textAnchor: "start", fontSize: 8.2, fontWeight: "normal", fill: "#3a3a3a"}),
    Plot.text(upRed.filter(d => d.i === 0), {x: "x", y: "y", text: "g", dx: -2, dy: -8, textAnchor: "start", fontSize: 8.2, fontWeight: "normal", fill: "#3a3a3a"}),
    Plot.text(upRed.filter(d => d.i === 10), {x: "x", y: "y", text: "g", dx: -6, textAnchor: "end", fontSize: 8.2, fontWeight: "normal", fill: "#3a3a3a"}),
    Plot.text(upGrayLab, {x: "x", y: "y", text: "g", dx: 6, textAnchor: "start", fontSize: 8.2, fontWeight: "normal", fill: "#3a3a3a"}),
    Plot.ruleX([2.5], {stroke: "#111", strokeWidth: 2}),
    Plot.ruleY([0], {stroke: "#111", strokeWidth: 2})
  ]
});
put(eUpSvg, 400, 660, "thick");

label("E", 7, 653, {size: 18, weight: "normal"});
label("Glucagon (Lower Band)", 265, 689, {size: 18, weight: "normal", italic: true});
label("Glucagon (Upper Band)", 623, 683, {size: 18, weight: "normal", italic: true});
label("-Log<sub style='font-size:0.68em;vertical-align:-0.25em'>10</sub> (p-value)", 80, 813, {size: 16, rotate: -90, lh: 1.2});
label("Log<sub style='font-size:0.68em;vertical-align:-0.25em'>2</sub> (fold change)", 265, 948, {size: 16, lh: 1.2});
label("Log<sub style='font-size:0.68em;vertical-align:-0.25em'>2</sub> (fold change)", 623, 955, {size: 16, lh: 1.2});
</script>
</body>
</html>
